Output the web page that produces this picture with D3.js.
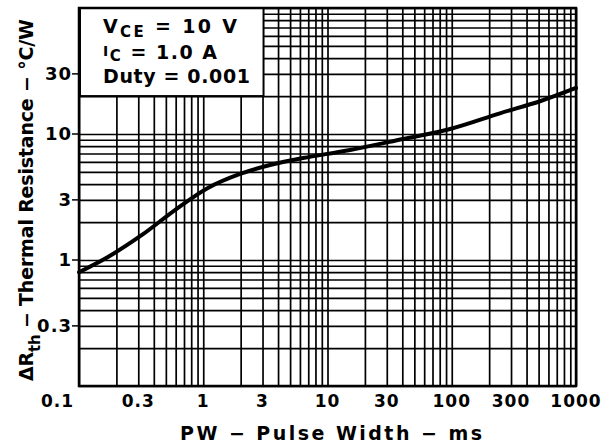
<!DOCTYPE html>
<meta charset="utf-8">
<head>
<style>
body { margin: 0; background: #fff; }
svg text { font-family: "DejaVu Sans", sans-serif; font-weight: bold; fill: #000; }
.grid line { stroke: #000; stroke-width: 1.7px; }
.curve { fill: none; stroke: #000; stroke-width: 4px; stroke-linecap: round; }
.tick-label { font-size: 17px; letter-spacing: 1px; }
.title { font-size: 19px; }
.legend { font-size: 19px; }
</style>
<script src="https://d3js.org/d3.v7.min.js"></script>
</head>
<body>
<script>

// pulse width (ms) and thermal resistance (°C/W)
var pw  = [0.1, 0.171, 0.321, 0.592, 1.09, 1.98, 3.45, 6.35, 15.2, 40.5, 96.9, 244, 513, 1000];
var rth = [0.80, 1.056, 1.58, 2.49, 3.73, 4.82, 5.67, 6.45, 7.47, 9.13, 10.96, 14.6, 18.2, 23.2];

var xTicks = [0.3, 1, 3, 10, 30, 100, 300, 1000];
var xTickLabels = ["0.3", "1", "3", "10", "30", "100", "300", "1000"];
var yTicks = [0.3, 1, 3, 10, 30];
var yTickLabels = ["0.3", "1", "3", "10", "30"];

var margin = {top: 8, right: 33, bottom: 59, left: 79},
    width = 609 - margin.left - margin.right,
    height = 445 - margin.top - margin.bottom;

var x = d3.scaleLog().domain([0.1, 1000]).range([0, width]);
var y = d3.scaleLog().domain([0.1, 100]).range([height, 0]);

var svg = d3.select("body").append("svg")
    .attr("width", 609)
    .attr("height", 445)
  .append("g")
    .attr("transform", "translate(" + margin.left + "," + margin.top + ")");

// log grid, every 1..9 of each decade
svg.append("g")
    .attr("class", "grid")
    .attr("transform", "translate(0," + height + ")")
    .call(d3.axisBottom(x).tickValues(x.ticks()).tickSize(-height).tickFormat(""))
    .call(g => g.select(".domain").remove());

svg.append("g")
    .attr("class", "grid")
    .call(d3.axisLeft(y).tickValues(y.ticks()).tickSize(-width).tickFormat(""))
    .call(g => g.select(".domain").remove());

// curve
var data = pw.map((d, i) => ({pw: d, r: rth[i]}));
var line = d3.line()
    .curve(d3.curveCatmullRom.alpha(0.5))
    .x(d => x(d.pw))
    .y(d => y(d.r));

svg.append("path")
    .datum(data)
    .attr("class", "curve")
    .attr("d", line);

// legend box covering the upper left of the grid
var bx0 = x(0.1), bx1 = x(3), by0 = y(100), by1 = y(20);
svg.append("rect")
    .attr("x", bx0 + 1)
    .attr("y", by0)
    .attr("width", bx1 - bx0)
    .attr("height", by1 - by0)
    .attr("fill", "#fff")
    .attr("stroke", "#000")
    .attr("stroke-width", 2);

var legend = svg.append("g").attr("transform", "translate(" + (bx0 + 24) + ",0)");

var l1 = legend.append("text").attr("class", "legend").attr("y", 25)
    .attr("textLength", 134).attr("lengthAdjust", "spacing");
l1.append("tspan").text("V");
l1.append("tspan").attr("dy", 4).style("font-size", "15px").text("CE");
l1.append("tspan").attr("dy", -4).text(" = 10 V");

var l2 = legend.append("text").attr("class", "legend").attr("y", 51)
    .attr("textLength", 114).attr("lengthAdjust", "spacing");
l2.append("tspan").attr("dy", -3).style("font-size", "14px").text("I");
l2.append("tspan").attr("dy", 5).style("font-size", "15px").text("C");
l2.append("tspan").attr("dy", -2).text(" = 1.0 A");

legend.append("text").attr("class", "legend").attr("y", 75)
    .attr("textLength", 147).attr("lengthAdjust", "spacing")
    .text("Duty = 0.001");

// frame
svg.append("rect")
    .attr("width", width)
    .attr("height", height)
    .attr("fill", "none")
    .attr("stroke", "#000")
    .attr("stroke-width", 2.5);

// x tick labels
svg.selectAll(".xl")
    .data(xTicks)
  .enter().append("text")
    .attr("class", "tick-label")
    .attr("x", d => x(d))
    .attr("y", height + 21)
    .attr("text-anchor", "middle")
    .text((d, i) => xTickLabels[i]);

// shared 0.1 label in the corner
svg.append("text")
    .attr("class", "tick-label")
    .attr("x", -5)
    .attr("y", height + 21)
    .attr("text-anchor", "end")
    .text("0.1");

// y ticks and labels
svg.selectAll(".yt")
    .data(yTicks)
  .enter().append("line")
    .attr("x1", -7).attr("x2", 0)
    .attr("y1", d => y(d)).attr("y2", d => y(d))
    .attr("stroke", "#000").attr("stroke-width", 1.5);

svg.selectAll(".yl")
    .data(yTicks)
  .enter().append("text")
    .attr("class", "tick-label")
    .style("font-size", "18px")
    .attr("x", -7)
    .attr("y", d => y(d))
    .attr("dy", "0.36em")
    .attr("text-anchor", "end")
    .text((d, i) => yTickLabels[i]);

// axis titles
svg.append("text")
    .attr("class", "title")
    .attr("x", 331 - margin.left)
    .attr("y", height + 54)
    .attr("text-anchor", "middle")
    .attr("textLength", 302)
    .attr("lengthAdjust", "spacing")
    .text("PW \u2212 Pulse Width \u2212 ms");

var yt = svg.append("text")
    .attr("class", "title")
    .attr("transform", "translate(" + (33 - margin.left) + "," + (200 - margin.top) + ") rotate(-90)")
    .attr("text-anchor", "middle")
    .attr("textLength", 362)
    .attr("lengthAdjust", "spacing");
yt.append("tspan").text("\u0394R");
yt.append("tspan").attr("dy", 7).style("font-size", "15px").text("th");
yt.append("tspan").attr("dy", -7).text(" \u2212 Thermal Resistance \u2212 \u00b0C/W");

</script>
</body>
</html>
